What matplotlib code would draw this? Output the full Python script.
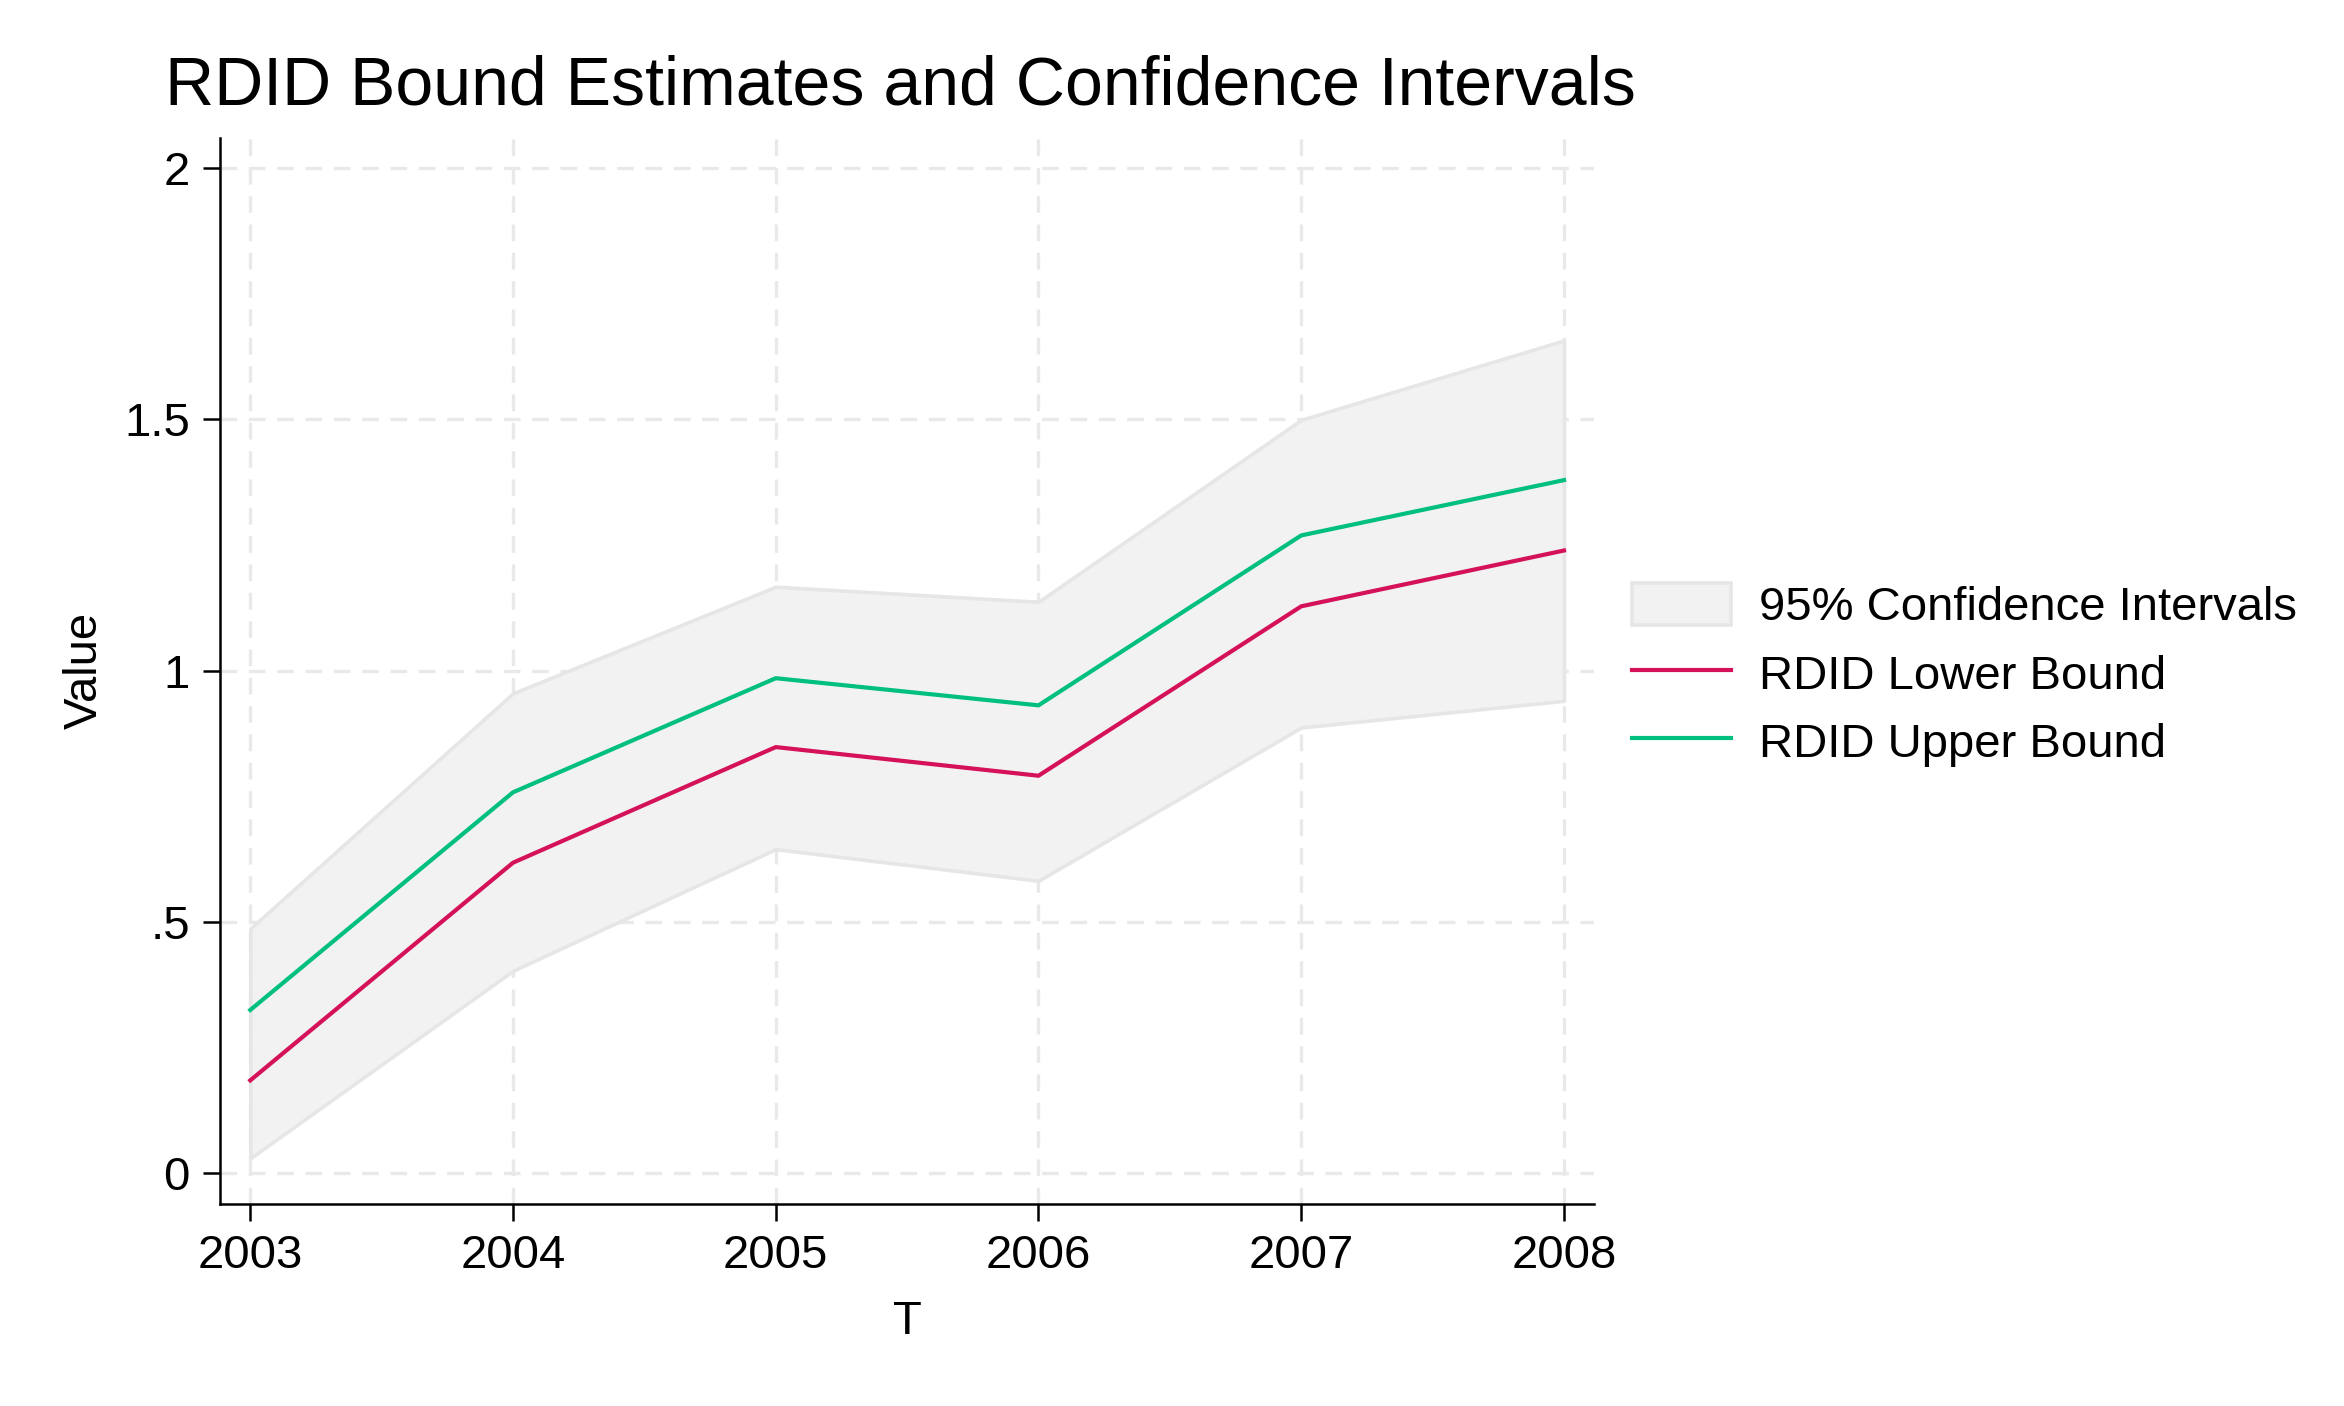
import matplotlib
matplotlib.use("Agg")
import matplotlib.pyplot as plt
from matplotlib.patches import Patch
from matplotlib.lines import Line2D

plt.rcParams["font.family"] = ["Liberation Sans", "DejaVu Sans"]

years = [2003, 2004, 2005, 2006, 2007, 2008]
lower_bound = [0.185, 0.618, 0.848, 0.791, 1.128, 1.239]
upper_bound = [0.325, 0.758, 0.985, 0.931, 1.269, 1.379]
ci_low = [0.030, 0.403, 0.645, 0.582, 0.887, 0.940]
ci_high = [0.487, 0.955, 1.167, 1.137, 1.499, 1.657]

y_ticks = [0, 0.5, 1, 1.5, 2]
y_labels = ["0", ".5", "1", "1.5", "2"]

red = "#d41159"
green = "#00bf7f"

fig = plt.figure(figsize=(11.72, 7.03), dpi=200)
ax = fig.add_axes([0.094, 0.144, 0.586, 0.758])

ax.fill_between(years, ci_low, ci_high, facecolor="#f2f2f2",
                edgecolor="#e6e6e6", linewidth=1.3, zorder=1)
ax.plot(years, lower_bound, color=red, linewidth=1.5, zorder=3)
ax.plot(years, upper_bound, color=green, linewidth=1.5, zorder=3)

ax.set_xlim(2002.886, 2008.114)
ax.set_ylim(-0.06, 2.06)
ax.set_xticks(years)
ax.set_yticks(y_ticks, y_labels)
ax.grid(True, color="#e9e9e9", linestyle=(0, (5, 3.5)), linewidth=1.2, zorder=0)
ax.set_axisbelow(True)

for s in ["top", "right"]:
    ax.spines[s].set_visible(False)
for s in ["left", "bottom"]:
    ax.spines[s].set_linewidth(0.9)
ax.tick_params(labelsize=17, length=6, width=0.9, pad=5)

ax.set_xlabel("T", fontsize=17, labelpad=8)
ax.set_ylabel("Value", fontsize=17, labelpad=6)
ax.set_title("RDID Bound Estimates and Confidence Intervals", fontsize=24.5,
             loc="left", x=-0.04, pad=12)

handles = [
    Patch(facecolor="#f2f2f2", edgecolor="#e6e6e6", linewidth=1.3),
    Line2D([], [], color=red, linewidth=1.5),
    Line2D([], [], color=green, linewidth=1.5),
]
labels = ["95% Confidence Intervals", "RDID Lower Bound", "RDID Upper Bound"]
fig.legend(handles, labels, loc="center left", bbox_to_anchor=(0.678, 0.52),
           frameon=False, fontsize=17, handlelength=2.1, handleheight=1.0,
           labelspacing=0.45, handletextpad=0.6)

fig.savefig("out.png", dpi=200, facecolor="white")
